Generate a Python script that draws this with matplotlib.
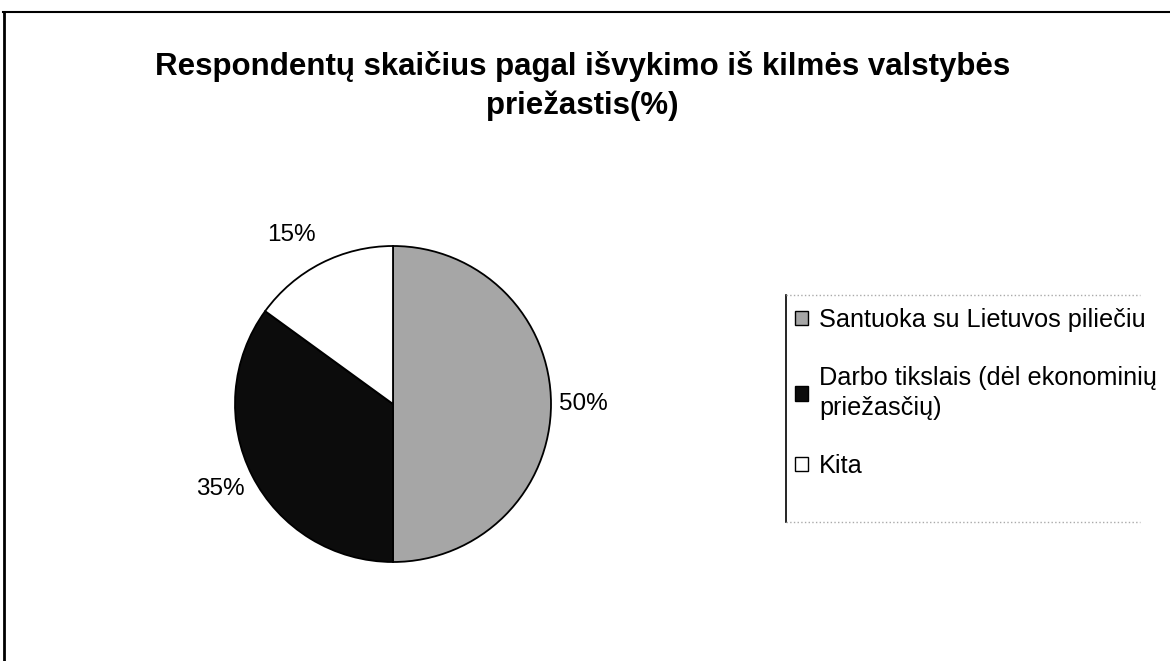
import matplotlib.pyplot as plt
from matplotlib.patches import Patch
from matplotlib.lines import Line2D

plt.rcParams['font.family'] = ['Liberation Sans', 'DejaVu Sans']

title = "Respondentų skaičius pagal išvykimo iš kilmės valstybės\npriežastis(%)"
categories = ["Santuoka su Lietuvos piliečiu",
              "Darbo tikslais (dėl ekonominių\npriežasčių)",
              "Kita"]
values = [50, 35, 15]
colors = ['#a6a6a6', '#0c0c0c', '#ffffff']

fig = plt.figure(figsize=(11.7, 6.61), dpi=100)

# ramelis (virsus ir kaire)
fig.add_artist(Line2D([3/1170, 1], [1 - 12/661, 1 - 12/661], color='black', lw=1.5))
fig.add_artist(Line2D([4/1170, 4/1170], [0, 1 - 12/661], color='black', lw=2))

fig.text(0.498, 1 - 86/661, title, ha='center', va='center',
         fontsize=22.5, fontweight='bold', linespacing=1.35)

# skritulys
ax = fig.add_axes([235/1170, 99/661, 316/1170, 316/661])
wedges, texts = ax.pie(values, colors=colors, startangle=90, counterclock=False,
                       labels=[f"{v}%" for v in values], labeldistance=1.05,
                       wedgeprops=dict(edgecolor='black', linewidth=1.3),
                       textprops=dict(fontsize=17.5))
ax.set_xlim(-1, 1)
ax.set_ylim(-1, 1)
ax.set_aspect('equal')
# Excel etikeciu vietos
for t in texts:
    t.set_va('center')
texts[0].set_position((1.05, 0.0))
texts[1].set_position((-0.94, -0.54))
texts[2].set_position((-0.49, 1.07))

# legenda
handles = [Patch(facecolor=c, edgecolor='black', linewidth=1) for c in colors]
leg = fig.legend(handles, categories, loc='upper left',
                 bbox_to_anchor=(795/1170, 1 - 308/661), frameon=False,
                 fontsize=18.2, handlelength=0.5, handleheight=0.5, handletextpad=0.45,
                 labelspacing=1.35, borderpad=0, borderaxespad=0)
for t in leg.get_texts():
    t.set_linespacing(1.3)
lx, ly0, ly1 = 786/1170, 1 - 295/661, 1 - 522/661
fig.add_artist(Line2D([lx, lx], [ly0, ly1], color='black', lw=1.2))
fig.add_artist(Line2D([lx, 1140/1170], [ly0, ly0], color='#aaaaaa', lw=1, ls=':'))
fig.add_artist(Line2D([lx, 1140/1170], [ly1, ly1], color='#aaaaaa', lw=1, ls=':'))

plt.savefig('out.png', dpi=100)
